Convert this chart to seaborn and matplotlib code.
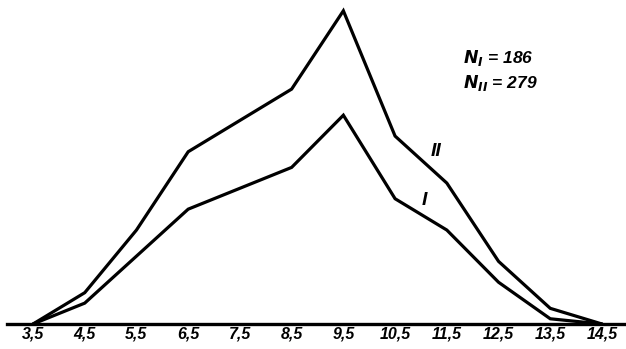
import matplotlib
matplotlib.use("Agg")
import matplotlib.pyplot as plt
import seaborn as sns
import pandas as pd

# Data (counts per class)
x_classes = [3.5, 4.5, 5.5, 6.5, 7.5, 8.5, 9.5, 10.5, 11.5, 12.5, 13.5, 14.5]
counts_I = [0, 4, 13, 22, 26, 30, 40, 24, 18, 8, 1, 0]
counts_II = [0, 6, 18, 33, 39, 45, 60, 36, 27, 12, 3, 0]
tick_labels = ["3,5", "4,5", "5,5", "6,5", "7,5", "8,5", "9,5", "10,5", "11,5", "12,5", "13,5", "14,5"]
series_names = ["I", "II"]
n_I = 186
n_II = 279

sns.set_style("white")
FONT = ["Liberation Sans Narrow", "Liberation Sans", "DejaVu Sans"]
plt.rcParams["font.family"] = FONT
plt.rcParams["text.color"] = "black"
plt.rcParams["xtick.color"] = "black"
plt.rcParams["mathtext.fontset"] = "custom"
plt.rcParams["mathtext.it"] = "Liberation Sans Narrow:italic:bold"
plt.rcParams["mathtext.rm"] = "Liberation Sans Narrow:italic:bold"

df = pd.concat([
    pd.DataFrame({"x": x_classes, "n": counts_I, "series": series_names[0]}),
    pd.DataFrame({"x": x_classes, "n": counts_II, "series": series_names[1]}),
])

W, H = 626, 349
fig = plt.figure(figsize=(W / 100, H / 100), dpi=100)
ax = fig.add_axes([7 / W, 25 / H, 619 / W, 324 / H])

sns.lineplot(data=df, x="x", y="n", hue="series", palette=["black", "black"],
             linewidth=2.3, legend=False, ax=ax, estimator=None, sort=False)
for ln in ax.lines:
    ln.set_solid_joinstyle("miter")
    ln.set_clip_on(False)

ax.set_xlim(3.5 - 26 / 51.7, 14.5 + 24 / 51.7)
ax.set_ylim(0, 324 / 5.22)

for s in ["top", "right", "left"]:
    ax.spines[s].set_visible(False)
ax.spines["bottom"].set_linewidth(2.4)
ax.spines["bottom"].set_color("black")

ax.set_xticks(x_classes)
ax.set_xticklabels(tick_labels, fontsize=11.5, fontstyle="italic", fontweight="bold",
                   family=FONT, color="black")
ax.tick_params(axis="x", direction="in", length=8, width=1.6, pad=2, colors="black")
ax.set_yticks([])
ax.set_xlabel("")
ax.set_ylabel("")

ax.text(11.29, 33.1, "II", fontsize=14, fontstyle="italic", fontweight="bold",
        ha="center", va="center", family=FONT, color="black")
ax.text(11.06, 23.6, "I", fontsize=14, fontstyle="italic", fontweight="bold",
        ha="center", va="center", family=FONT, color="black")

ax.text(11.82, 50.0, r"$N_{I}$" + f" = {n_I}", fontsize=12.5, fontstyle="italic",
        fontweight="bold", ha="left", va="baseline", family=FONT, color="black")
ax.text(11.82, 45.2, r"$N_{II}$" + f" = {n_II}", fontsize=12.5, fontstyle="italic",
        fontweight="bold", ha="left", va="baseline", family=FONT, color="black")

fig.savefig("out.png", dpi=100)
